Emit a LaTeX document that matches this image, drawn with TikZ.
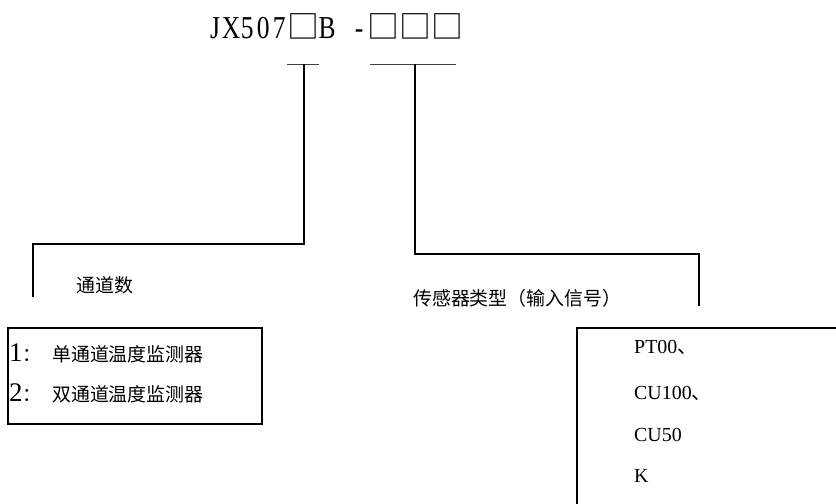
\documentclass[tikz,border=0pt]{standalone}
\usepackage{fontspec}
\setmainfont{Liberation Serif}
\newfontfamily\cjk{Noto Sans CJK SC}
\newcommand\hwc[1]{\makebox[16bp]{\scalebox{0.8}[1]{#1}}}
\newcommand\fwc[1]{\makebox[32bp]{\cjk #1}}
\begin{document}
\begin{tikzpicture}[x=1bp,y=-1bp,
  conn/.style={line width=2bp},
  bar/.style={line width=0.9bp, black!75},
  frame/.style={line width=2bp},
  cn/.style={font=\cjk\fontsize{19}{22}\selectfont, inner sep=0, anchor=west},
  lat/.style={font=\fontsize{20}{24}\selectfont, inner sep=0, anchor=west},
  item/.style={font=\fontsize{19}{22}\selectfont, inner sep=0, anchor=west}]
\useasboundingbox (0,0) rectangle (836,504);

% title
\node[inner sep=0, anchor=west, font=\fontsize{32}{32}\selectfont] (title) at (207,26)
  {\hwc{J}\hwc{X}\hwc{5}\hwc{0}\hwc{7}\fwc{□}\hwc{B}\hwc{ }\hwc{-}\fwc{□}\fwc{□}\fwc{□}};

% bars and connectors
\coordinate (b1l) at (287,64);
\coordinate (b1r) at (319,64);
\coordinate (b1m) at (304,64);
\coordinate (b2l) at (370,64);
\coordinate (b2r) at (456,64);
\coordinate (b2m) at (415,64);
\coordinate (k2) at (33,244);
\coordinate (c1) at (33,297);
\coordinate (k4) at (699,254);
\coordinate (c2) at (699,306);
\draw[bar] (b1l) -- (b1r);
\draw[bar] (b2l) -- (b2r);
\draw[conn] (b1m) |- (k2) -- (c1);
\draw[conn] (b2m) |- (k4) -- (c2);

% labels
\node[cn] (lab1) at (76,285) {通道数};
\node[cn] (lab2) at (413,298) {传感器类型（输入信号）};

% box 1
\node[draw, frame, inner sep=0, minimum width=254bp, minimum height=96bp, anchor=north west] (box1) at (7,327) {};
\node[item] (o1) at (9,353) {\makebox[43bp][l]{\fontsize{27}{27}\selectfont 1{\cjk\fontsize{19}{19}\selectfont ：}}{\cjk 单通道温度监测器}};
\node[item] (o2) at (9,393) {\makebox[43bp][l]{\fontsize{27}{27}\selectfont 2{\cjk\fontsize{19}{19}\selectfont ：}}{\cjk 双通道温度监测器}};

% box 2 (extends beyond the picture)
\coordinate (f1) at (577,510);
\coordinate (f2) at (577,328);
\coordinate (f3) at (840,328);
\draw[frame] (f1) -- (f2) -- (f3);
\node[lat] (s1) at (634,347) {PT00{\cjk 、}};
\node[lat] (s2) at (634,393) {CU100{\cjk 、}};
\node[lat] (s3) at (634,435) {CU50};
\node[lat] (s4) at (634,476) {K};
\end{tikzpicture}
\end{document}
